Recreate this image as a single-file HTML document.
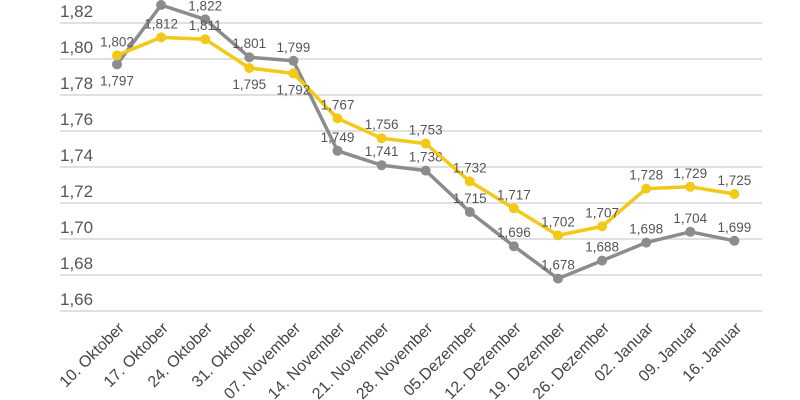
<!DOCTYPE html>
<html><head><meta charset="utf-8"><style>
html,body{margin:0;padding:0;background:#fff;}
svg{display:block;font-family:"Liberation Sans","DejaVu Sans",sans-serif;}
</style></head><body>
<svg id="c" width="800" height="400" viewBox="0 0 800 400" xmlns="http://www.w3.org/2000/svg"></svg>
<script>
const s=document.getElementById('c');
const NS='http://www.w3.org/2000/svg';
function el(t,a,txt){const e=document.createElementNS(NS,t);for(const k in a)e.setAttribute(k,a[k]);if(txt!==undefined)e.textContent=txt;s.appendChild(e);return e;}
const Y=v=>23+(1.82-v)/0.02*36;
const X=i=>117+i*44.1;
for(let k=0;k<=8;k++){const v=1.82-k*0.02;const y=Y(v);
 el('line',{x1:60,x2:762,y1:y,y2:y,stroke:'#d6d6d6','stroke-width':1.5});
 el('text',{x:60,y:y-6,'font-size':17,fill:'#555'},v.toFixed(2).replace('.',','));}
const cats=['10. Oktober','17. Oktober','24. Oktober','31. Oktober','07. November','14. November','21. November','28. November','05.Dezember','12. Dezember','19. Dezember','26. Dezember','02. Januar','09. Januar','16. Januar'];
cats.forEach((c,i)=>{const x=X(i)+8,y=329;el('text',{x:x,y:y,'font-size':16,fill:'#444','text-anchor':'end',transform:`rotate(-45 ${x} ${y})`},c);});
const gray=[1.797,1.830,1.822,1.801,1.799,1.749,1.741,1.738,1.715,1.696,1.678,1.688,1.698,1.704,1.699];
const yel=[1.802,1.812,1.811,1.795,1.792,1.767,1.756,1.753,1.732,1.717,1.702,1.707,1.728,1.729,1.725];
function series(d,col,below,skip){
 el('polyline',{points:d.map((v,i)=>X(i)+','+Y(v)).join(' '),fill:'none',stroke:col,'stroke-width':3.5,'stroke-linejoin':'round'});
 d.forEach((v,i)=>{el('circle',{cx:X(i),cy:Y(v),r:5,fill:col});});
 d.forEach((v,i)=>{if(skip.includes(i))return;const b=below.includes(i);
  el('text',{x:X(i),y:b?Y(v)+21:Y(v)-9,'font-size':13.5,fill:'#555','text-anchor':'middle'},v.toFixed(3).replace('.',','));});
}
series(gray,'#8c8c8c',[0],[1]);
series(yel,'#f2c919',[3,4],[]);
</script>
</body></html>
